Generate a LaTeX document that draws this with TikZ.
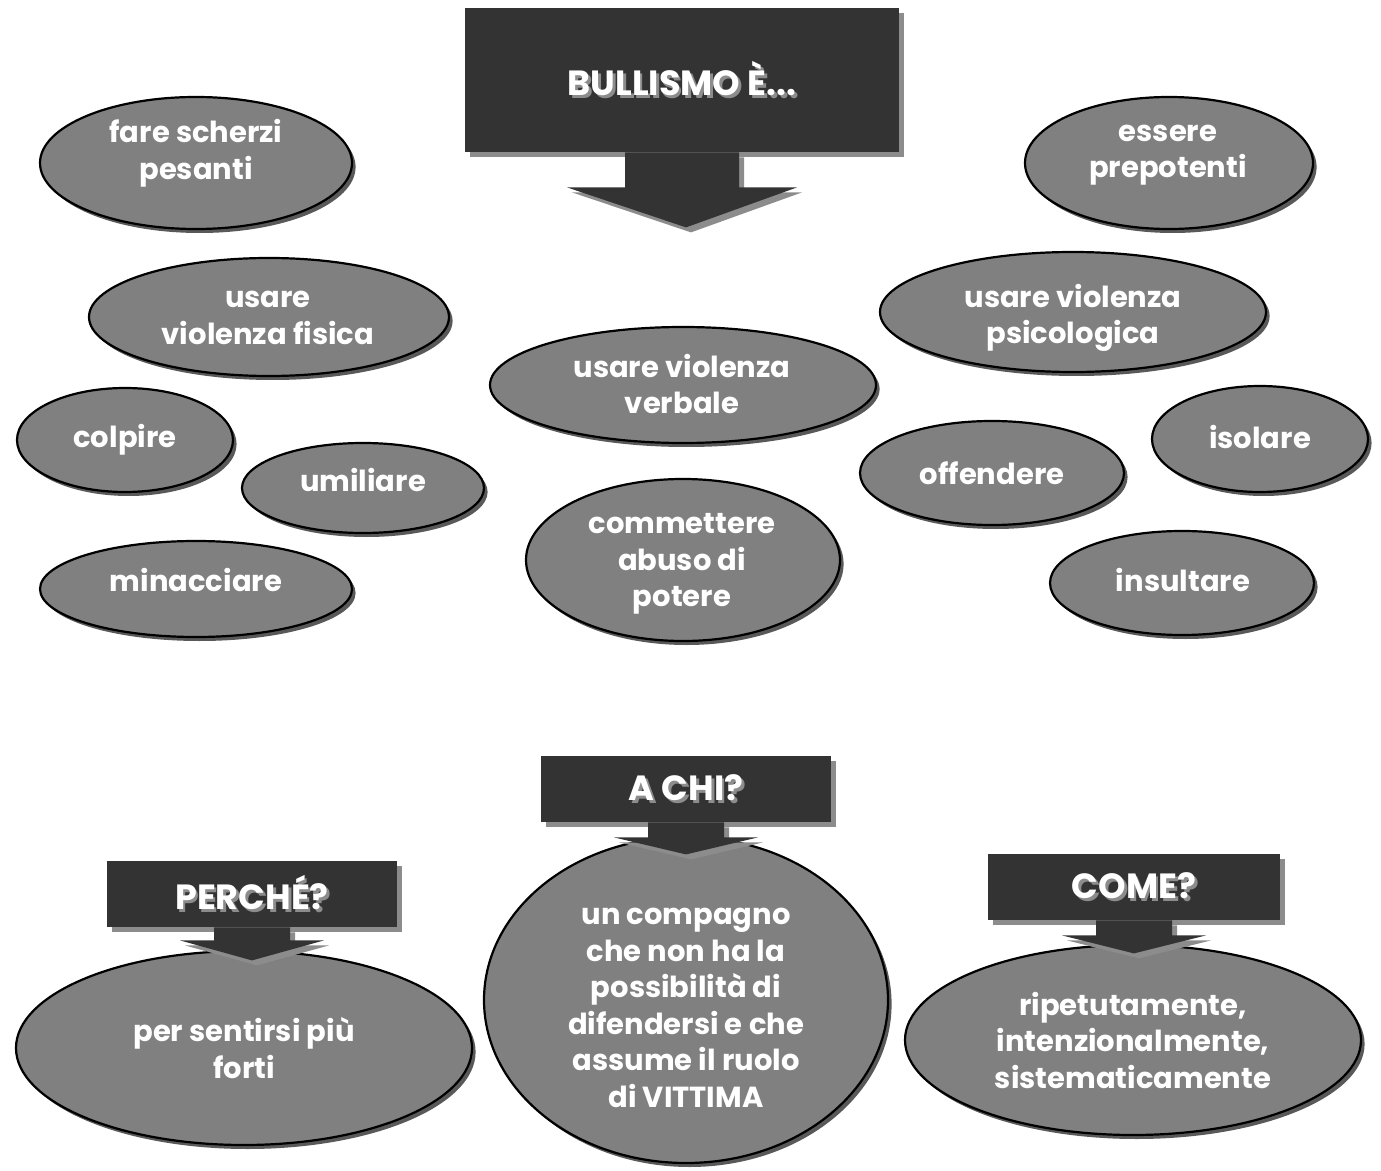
\documentclass[tikz,border=0pt]{standalone}
\usepackage{fontspec}
\setmainfont{Poppins}
\usetikzlibrary{shapes.geometric, shadows, positioning, calc}
\definecolor{boxg}{HTML}{333333}
\definecolor{bubg}{HTML}{808080}
\definecolor{shdg}{HTML}{8C8C8C}
\newcommand{\embossed}[1]{\rlap{\color{shdg}\kern1.4pt\raisebox{-1.4pt}{#1}}#1}

\begin{document}
\begin{tikzpicture}[x=0.5pt, y=-0.5pt,
        bubble/.style={ellipse, draw=black, line width=1.1pt, fill=bubg, inner sep=0pt,
            drop shadow={shadow xshift=1.8pt, shadow yshift=-2pt, fill=black!65, opacity=1}},
        txt/.style={text=white, align=center, inner sep=0pt, font=\bfseries\fontsize{14.5}{18.25}\selectfont},
        hdbox/.style={rectangle, fill=boxg, inner sep=0pt, text=white, font=\bfseries\fontsize{17.5}{20}\selectfont,
            drop shadow={shadow xshift=2.5pt, shadow yshift=-2.5pt, fill=shdg, opacity=1}},
        hdarrow/.style={fill=boxg, drop shadow={shadow xshift=2.5pt, shadow yshift=-2.5pt, fill=shdg, opacity=1}}]
    \useasboundingbox (0,0) rectangle (1381,1171);

    % bubbles of the first part
    \node[bubble, minimum width=156pt, minimum height=66pt] (scherzi) at (196,163) {};
    \node[txt] (scherzi-t) at (196,153) {fare scherzi\\pesanti};
    \node[bubble, minimum width=144pt, minimum height=66pt] (prepot) at (1169,163) {};
    \node[txt] (prepot-t) at (1168,155) {essere\\prepotenti};
    \node[bubble, minimum width=180pt, minimum height=59pt] (fisica) at (269,317) {};
    \node[txt] (fisica-t) at (268,318) {usare\\violenza fisica};
    \node[bubble, minimum width=193pt, minimum height=60pt] (psico) at (1073,312) {};
    \node[txt] (psico-t) at (1073,318) {usare violenza\\psicologica};
    \node[bubble, minimum width=193pt, minimum height=58pt] (verbale) at (683,385) {};
    \node[txt] (verbale-t) at (682,384) {usare violenza\\verbale};
    \node[bubble, minimum width=108pt, minimum height=52pt] (colpire) at (125,440) {};
    \node[txt] (colpire-t) at (125,440) {colpire};
    \node[bubble, minimum width=121pt, minimum height=45pt] (umiliare) at (363,488) {};
    \node[txt] (umiliare-t) at (363,480) {umiliare};
    \node[bubble, minimum width=132pt, minimum height=52pt] (offend) at (992,473) {};
    \node[txt] (offend-t) at (992,473) {offendere};
    \node[bubble, minimum width=108pt, minimum height=53pt] (isolare) at (1260,439) {};
    \node[txt] (isolare-t) at (1260,437) {isolare};
    \node[bubble, minimum width=157pt, minimum height=81pt] (abuso) at (683,560) {};
    \node[txt] (abuso-t) at (682,564) {commettere\\abuso di\\potere};
    \node[bubble, minimum width=156pt, minimum height=48pt] (minacc) at (196,589) {};
    \node[txt] (minacc-t) at (196,580) {minacciare};
    \node[bubble, minimum width=132pt, minimum height=52pt] (insult) at (1182,583) {};
    \node[txt] (insult-t) at (1183,580) {insultare};

    % bubbles of the second part
    \node[bubble, minimum width=228pt, minimum height=97pt] (forti) at (244,1048) {};
    \node[txt] (forti-t) at (244,1048) {per sentirsi più\\forti};
    \node[bubble, minimum width=202pt, minimum height=163pt] (vittima) at (686,1000) {};
    \node[txt] (vittima-t) at (686,1008) {un compagno\\che non ha la\\possibilità di\\difendersi e che\\assume il ruolo\\di VITTIMA};
    \node[bubble, minimum width=228pt, minimum height=95pt] (modo) at (1133,1040) {};
    \node[txt] (modo-t) at (1133,1040) {ripetutamente,\\intenzionalmente,\\sistematicamente};

    % title boxes with their arrows
    \node[hdbox, minimum width=217pt, minimum height=72pt] (bull) at (682,80) {\embossed{BULLISMO È...}};
    \path[hdarrow] ($(bull.south)+(-57,0)$) -- ++(0,35) -- ++(-58,0) -- ($(bull.south)+(4,75)$)
        -- ($(bull.south)+(115,35)$) -- ++(-58,0) -- ++(0,-35) -- cycle;

    \node[hdbox, minimum width=145pt, minimum height=33pt] (achi) at (686,789) {\embossed{A CHI?}};
    \path[hdarrow] ($(achi.south)+(-38,0)$) -- ++(0,15) -- ++(-34,0) -- ($(achi.south)+(0,32)$)
        -- ($(achi.south)+(72,15)$) -- ++(-34,0) -- ++(0,-15) -- cycle;

    \node[hdbox, minimum width=145pt, minimum height=33pt] (perche) at (252,894) {\embossed{PERCHÉ?}};
    \path[hdarrow] ($(perche.south)+(-38,0)$) -- ++(0,13) -- ++(-34,0) -- ($(perche.south)+(0,33)$)
        -- ($(perche.south)+(72,13)$) -- ++(-34,0) -- ++(0,-13) -- cycle;

    \node[hdbox, minimum width=146pt, minimum height=33pt] (come) at (1134,887) {\embossed{COME?}};
    \path[hdarrow] ($(come.south)+(-38,0)$) -- ++(0,15) -- ++(-34,0) -- ($(come.south)+(0,33)$)
        -- ($(come.south)+(72,15)$) -- ++(-34,0) -- ++(0,-15) -- cycle;
\end{tikzpicture}
\end{document}
